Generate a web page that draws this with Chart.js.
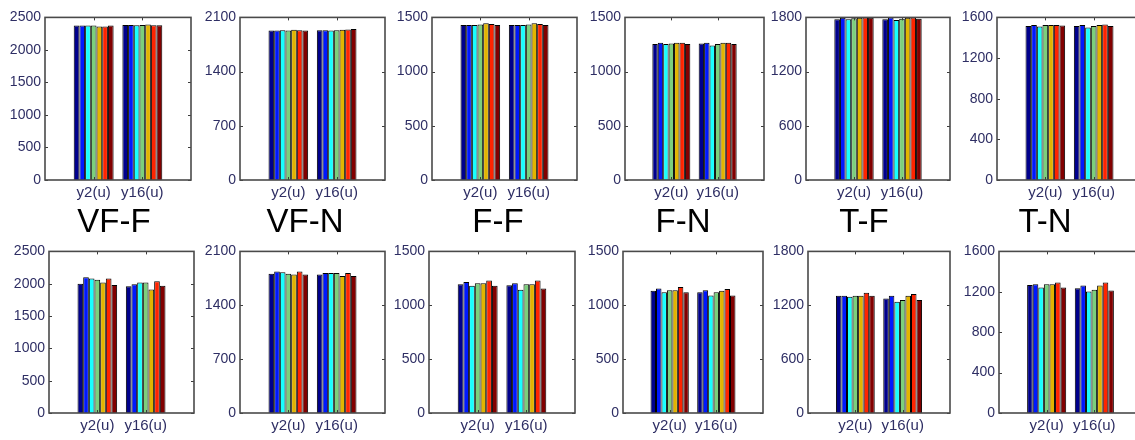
<!DOCTYPE html>
<html>
<head>
<meta charset="utf-8">
<script src="https://cdn.jsdelivr.net/npm/chart.js@4.4.1/dist/chart.umd.min.js"></script>
<style>
  html, body { margin: 0; padding: 0; background: #ffffff; }
  #wrap { position: relative; width: 1135px; height: 440px; overflow: hidden; background: #fff; }
  .panel { position: absolute; }
  .panel canvas { display: block; }
  .tag { position: absolute; font-family: "Liberation Sans", Arial, sans-serif; font-size: 33px;
         color: #000; transform: translateX(-50%); white-space: nowrap; line-height: 1; }
</style>
</head>
<body>
<div id="wrap"></div>
<script>
// x categories of every panel
const categories = ['y2(u)', 'y16(u)'];
// condition names written between the two rows
const conditions = ['VF-F', 'VF-N', 'F-F', 'F-N', 'T-F', 'T-N'];
// y-axis range and step for each column
const yMax  = [2500, 2100, 1500, 1500, 1800, 1600];
const yStep = [500, 700, 500, 500, 600, 400];

// upper row: 7 series per panel, each pair is [y2(u), y16(u)]
const upperVFF = [[2375, 2385], [2375, 2385], [2375, 2380], [2375, 2385], [2360, 2390], [2360, 2380], [2375, 2380]];
const upperVFN = [[1930, 1935], [1930, 1935], [1935, 1930], [1930, 1935], [1940, 1940], [1935, 1945], [1930, 1950]];
const upperFF  = [[1430, 1430], [1430, 1430], [1430, 1430], [1435, 1435], [1445, 1445], [1440, 1440], [1430, 1430]];
const upperFN  = [[1255, 1260], [1265, 1265], [1255, 1240], [1260, 1255], [1265, 1265], [1265, 1265], [1255, 1255]];
const upperTF  = [[1780, 1780], [1795, 1800], [1780, 1770], [1790, 1785], [1795, 1795], [1800, 1800], [1795, 1785]];
const upperTN  = [[1515, 1515], [1525, 1525], [1510, 1500], [1525, 1515], [1525, 1525], [1525, 1530], [1520, 1515]];

// lower row
const lowerVFF = [[2000, 1960], [2100, 1990], [2080, 2020], [2060, 2020], [2020, 1910], [2080, 2040], [1980, 1970]];
const lowerVFN = [[1810, 1800], [1840, 1820], [1830, 1820], [1810, 1820], [1800, 1780], [1840, 1820], [1800, 1780]];
const lowerFF  = [[1195, 1185], [1215, 1205], [1180, 1145], [1205, 1195], [1205, 1195], [1230, 1230], [1180, 1155]];
const lowerFN  = [[1135, 1120], [1155, 1140], [1120, 1090], [1140, 1120], [1140, 1135], [1170, 1150], [1120, 1090]];
const lowerTF  = [[1305, 1275], [1305, 1305], [1295, 1240], [1305, 1260], [1305, 1305], [1340, 1325], [1305, 1260]];
const lowerTN  = [[1268, 1236], [1275, 1262], [1242, 1203], [1275, 1220], [1275, 1262], [1291, 1291], [1242, 1213]];

const upperRow = [upperVFF, upperVFN, upperFF, upperFN, upperTF, upperTN];
const lowerRow = [lowerVFF, lowerVFN, lowerFF, lowerFN, lowerTF, lowerTN];

// jet-like palette, one colour per series
const seriesColors = ['#00008c', '#0018ff', '#18ffff', '#7ccf7c', '#e2b400', '#ff2400', '#820000'];

// plot-box geometry [left, right] for each column, and [top, bottom] per row
const upperBoxX = [[45, 191], [240, 385], [432, 577], [625, 764], [806, 950], [997, 1142]];
const lowerBoxX = [[49, 194], [240, 385], [429, 575], [623, 763], [808, 950], [999, 1142]];
const upperBoxY = [15, 180];
const lowerBoxY = [249, 413];
const tagCenters = [114, 305, 498, 683, 864, 1045];
const tagTop = 204;

const Y_AXIS_W = 50, X_AXIS_H = 26, PAD_TOP = 10, PAD_RIGHT = 4;

// Axes box with inward tick marks
const boxPlugin = {
  id: 'boxTicks',
  afterDraw(chart) {
    const { ctx, chartArea: a, scales } = chart;
    const len = 3;
    ctx.save();
    ctx.strokeStyle = '#3c3c3c';
    ctx.lineWidth = 1;
    scales.y.ticks.forEach(t => {
      const py = Math.round(scales.y.getPixelForValue(t.value)) + 0.5;
      ctx.beginPath();
      ctx.moveTo(a.left, py); ctx.lineTo(a.left + len, py);
      ctx.moveTo(a.right, py); ctx.lineTo(a.right - len, py);
      ctx.stroke();
    });
    [1, 2].forEach(i => {
      const px = Math.round(scales.x.getPixelForValue(i)) + 0.5;
      ctx.beginPath();
      ctx.moveTo(px, a.bottom); ctx.lineTo(px, a.bottom - len);
      ctx.moveTo(px, a.top); ctx.lineTo(px, a.top + len);
      ctx.stroke();
    });
    ctx.lineWidth = 1.6;
    ctx.strokeStyle = '#4a4a4a';
    ctx.strokeRect(a.left, a.top, a.right - a.left, a.bottom - a.top);
    ctx.restore();
  }
};

const wrap = document.getElementById('wrap');

function makePanel(series, col, boxX, boxY) {
  const div = document.createElement('div');
  div.className = 'panel';
  const w = (boxX[1] - boxX[0]) + Y_AXIS_W + PAD_RIGHT;
  const h = (boxY[1] - boxY[0]) + PAD_TOP + X_AXIS_H;
  div.style.left = (boxX[0] - Y_AXIS_W) + 'px';
  div.style.top = (boxY[0] - PAD_TOP) + 'px';
  div.style.width = w + 'px';
  div.style.height = h + 'px';
  const cv = document.createElement('canvas');
  div.appendChild(cv);
  wrap.appendChild(div);

  const labels = [''].concat(categories, ['']);
  const datasets = series.map((pair, i) => ({
    data: [null].concat(pair, [null]),
    backgroundColor: seriesColors[i],
    borderColor: '#000000',
    borderWidth: 1,
    borderSkipped: 'bottom',
    categoryPercentage: 0.82,
    barPercentage: 1.0
  }));

  new Chart(cv, {
    type: 'bar',
    data: { labels, datasets },
    options: {
      responsive: true,
      maintainAspectRatio: false,
      animation: false,
      events: [],
      layout: { padding: { top: PAD_TOP, right: PAD_RIGHT, left: 0, bottom: 0 } },
      plugins: { legend: { display: false }, tooltip: { enabled: false } },
      scales: {
        x: {
          offset: false,
          grid: { display: false, drawTicks: false, tickLength: 0 },
          border: { display: false },
          ticks: {
            autoSkip: false, maxRotation: 0, minRotation: 0, padding: 4,
            color: '#2e2e64',
            font: { family: '"Liberation Sans", Arial, sans-serif', size: 15 }
          },
          afterFit(s) { s.height = X_AXIS_H; }
        },
        y: {
          min: 0, max: yMax[col],
          grid: { display: false, drawTicks: false, tickLength: 0 },
          border: { display: false },
          ticks: {
            stepSize: yStep[col], padding: 4,
            color: '#2e2e64',
            font: { family: '"Liberation Sans", Arial, sans-serif', size: 14 },
            callback: v => String(v)
          },
          afterFit(s) { s.width = Y_AXIS_W; }
        }
      }
    },
    plugins: [boxPlugin]
  });
}

upperRow.forEach((s, c) => makePanel(s, c, upperBoxX[c], upperBoxY));
lowerRow.forEach((s, c) => makePanel(s, c, lowerBoxX[c], lowerBoxY));

conditions.forEach((name, c) => {
  const t = document.createElement('div');
  t.className = 'tag';
  t.textContent = name;
  t.style.left = tagCenters[c] + 'px';
  t.style.top = tagTop + 'px';
  wrap.appendChild(t);
});
</script>
</body>
</html>
